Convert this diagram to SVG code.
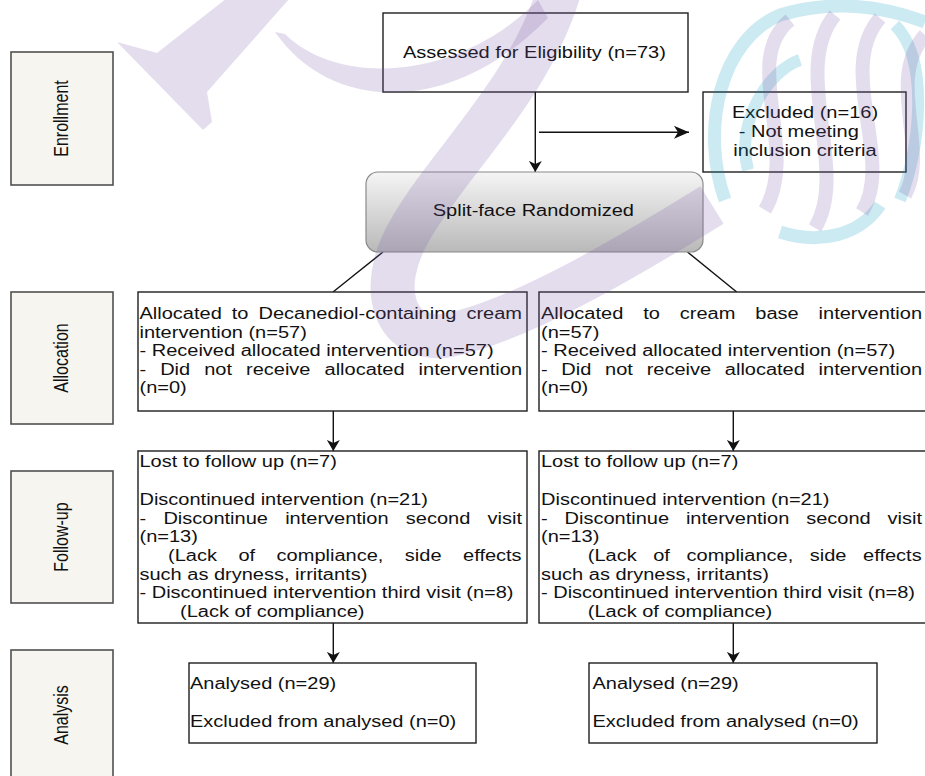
<svg xmlns="http://www.w3.org/2000/svg" width="925" height="776" viewBox="0 0 925 776">
<defs>
<style>
.box{fill:#fff;stroke:#1e1e1e;stroke-width:1.4}
.side{fill:#f7f5ef;stroke:#505050;stroke-width:1.6}
.t{font-family:"Liberation Sans",Arial,sans-serif;font-size:16px;fill:#111}
.m{text-anchor:middle}
.c{stroke:#111;stroke-width:1.4;fill:none}
.wp{fill:none;stroke:#7a55a5;stroke-opacity:.2}
.wb{fill:none;stroke:#0096c0;stroke-opacity:.2}
.wpf{fill:#7a55a5;fill-opacity:.2}
</style>
<linearGradient id="g" x1="0" y1="0" x2="0" y2="1"><stop offset="0" stop-color="#f5f5f5"/><stop offset="1" stop-color="#b9b9b9"/></linearGradient>
<marker id="a" markerUnits="userSpaceOnUse" markerWidth="11" markerHeight="13" viewBox="0 0 11 13" refX="11" refY="6.5" orient="auto"><path d="M0,0 L11,6.5 L0,13 L3,6.5 Z" fill="#111"/></marker>
<marker id="ah" markerUnits="userSpaceOnUse" markerWidth="15" markerHeight="13" viewBox="0 0 15 13" refX="15" refY="6.5" orient="auto"><path d="M0,0 L15,6.5 L0,13 L4,6.5 Z" fill="#111"/></marker>
</defs>
<rect width="925" height="776" fill="#fff"/>

<g id="side-enrollment"><rect class="side" x="11" y="52" width="102" height="133"/><text class="t m" transform="translate(61,118.5) rotate(-90) scale(1,1.3)" y="5.5">Enrollment</text></g>
<g id="side-allocation"><rect class="side" x="11" y="292" width="102" height="132"/><text class="t m" transform="translate(61,358) rotate(-90) scale(1,1.3)" y="5.5">Allocation</text></g>
<g id="side-followup"><rect class="side" x="11" y="471" width="102" height="132"/><text class="t m" transform="translate(61,537) rotate(-90) scale(1,1.3)" y="5.5">Follow-up</text></g>
<g id="side-analysis"><rect class="side" x="11" y="650" width="102" height="140"/><text class="t m" transform="translate(61,715) rotate(-90) scale(1,1.3)" y="5.5">Analysis</text></g>

<g id="connectors">
<line class="c" x1="535.3" y1="92" x2="535.3" y2="172" marker-end="url(#a)"/>
<line class="c" x1="539" y1="132.3" x2="689" y2="132.3" marker-end="url(#ah)"/>
<line class="c" x1="383" y1="252" x2="333" y2="292"/>
<line class="c" x1="687.5" y1="252" x2="736.7" y2="292"/>
<line class="c" x1="333.3" y1="411" x2="333.3" y2="451" marker-end="url(#a)"/>
<line class="c" x1="733.3" y1="411" x2="733.3" y2="451" marker-end="url(#a)"/>
<line class="c" x1="333.3" y1="623" x2="333.3" y2="663" marker-end="url(#a)"/>
<line class="c" x1="733.3" y1="623" x2="733.3" y2="663" marker-end="url(#a)"/>
</g>

<g id="assessed"><rect class="box" x="383" y="13" width="305" height="79"/>
<text class="t m" transform="scale(1.25,1)" x="427.5" y="58">Assessed for Eligibility (n=73)</text></g>

<g id="excluded"><rect class="box" x="703" y="92" width="203" height="80"/>
<g class="t m" transform="scale(1.25,1)"><text x="644" y="118.5">Excluded (n=16)</text><text x="639" y="137.5">- Not meeting</text><text x="644" y="156.5">inclusion criteria</text></g></g>

<g id="randomized"><rect x="366" y="172" width="337" height="80" rx="12" fill="url(#g)" stroke="#8a8a8a" stroke-width="1.2"/>
<text class="t m" transform="scale(1.25,1)" x="426.7" y="216">Split-face Randomized</text></g>

<g id="alloc-left"><rect class="box" x="138" y="292" width="389" height="119"/>
<g class="t" transform="scale(1.25,1)">
<text y="319"><tspan x="111.6">Allocated</tspan><tspan x="185.4">to</tspan><tspan x="206.8">Decanediol-containing</tspan><tspan x="373.15">cream</tspan></text>
<text x="111.6" y="337.6">intervention (n=57)</text>
<text x="111.6" y="356.2">- Received allocated intervention (n=57)</text>
<text y="374.8"><tspan x="111.6">-</tspan><tspan x="128.15">Did</tspan><tspan x="163.37">not</tspan><tspan x="196.83">receive</tspan><tspan x="259.62">allocated</tspan><tspan x="334.9">intervention</tspan></text>
<text x="111.6" y="393.4">(n=0)</text>
</g></g>

<g id="alloc-right"><rect class="box" x="539" y="292" width="400" height="119"/>
<g class="t" transform="scale(1.25,1)">
<text y="319"><tspan x="432.8">Allocated</tspan><tspan x="514.56">to</tspan><tspan x="543.85">cream</tspan><tspan x="604.25">base</tspan><tspan x="654.9">intervention</tspan></text>
<text x="432.8" y="337.6">(n=57)</text>
<text x="432.8" y="356.2">- Received allocated intervention (n=57)</text>
<text y="374.8"><tspan x="432.8">-</tspan><tspan x="449.11">Did</tspan><tspan x="484.09">not</tspan><tspan x="517.31">receive</tspan><tspan x="579.86">allocated</tspan><tspan x="654.9">intervention</tspan></text>
<text x="432.8" y="393.4">(n=0)</text>
</g></g>

<g id="follow-left"><rect class="box" x="138" y="451" width="389" height="172"/>
<g class="t" transform="scale(1.25,1)">
<text x="111.6" y="467.5">Lost to follow up (n=7)</text>
<text x="111.6" y="504.9">Discontinued intervention (n=21)</text>
<text y="523.6"><tspan x="111.6">-</tspan><tspan x="130.74">Discontinue</tspan><tspan x="228.13">intervention</tspan><tspan x="324.64">second</tspan><tspan x="390.05">visit</tspan></text>
<text x="111.6" y="542.3">(n=13)</text>
<text y="561"><tspan x="134.4">(Lack</tspan><tspan x="190.74">of</tspan><tspan x="221.3">compliance,</tspan><tspan x="323.88">side</tspan><tspan x="370.46">effects</tspan></text>
<text x="111.6" y="579.7">such as dryness, irritants)</text>
<text x="111.6" y="598.4">- Discontinued intervention third visit (n=8)</text>
<text x="144" y="617.1">(Lack of compliance)</text>
</g></g>

<g id="follow-right"><rect class="box" x="539" y="451" width="400" height="172"/>
<g class="t" transform="scale(1.25,1)">
<text x="432.8" y="467.5">Lost to follow up (n=7)</text>
<text x="432.8" y="504.9">Discontinued intervention (n=21)</text>
<text y="523.6"><tspan x="432.8">-</tspan><tspan x="451.64">Discontinue</tspan><tspan x="548.73">intervention</tspan><tspan x="644.94">second</tspan><tspan x="710.05">visit</tspan></text>
<text x="432.8" y="542.3">(n=13)</text>
<text y="561"><tspan x="470.2">(Lack</tspan><tspan x="522.6">of</tspan><tspan x="549.22">compliance,</tspan><tspan x="647.86">side</tspan><tspan x="690.46">effects</tspan></text>
<text x="432.8" y="579.7">such as dryness, irritants)</text>
<text x="432.8" y="598.4">- Discontinued intervention third visit (n=8)</text>
<text x="470.2" y="617.1">(Lack of compliance)</text>
</g></g>

<g id="analysis-left"><rect class="box" x="189" y="663" width="287" height="80"/>
<g class="t" transform="scale(1.25,1)"><text x="152" y="689.3">Analysed (n=29)</text><text x="152" y="726.7">Excluded from analysed (n=0)</text></g></g>

<g id="analysis-right"><rect class="box" x="589" y="663" width="288" height="80"/>
<g class="t" transform="scale(1.25,1)"><text x="474" y="689.3">Analysed (n=29)</text><text x="474" y="726.7">Excluded from analysed (n=0)</text></g></g>

<g id="watermark">
<polygon class="wpf" points="117,42 157,53 227,-2 290,-2 207,92 212,122 203,130"/>
<path class="wpf" d="M275,32 C330,112 450,118 548,18 L538,0 C460,80 340,88 285,34 Z"/>
<path class="wp" stroke-width="44" d="M560,-12 C530,90 450,160 410,230 C375,290 395,345 450,335 C520,320 620,262 712,205"/>
<path class="wb" stroke-width="13" d="M725,200 C700,130 720,40 780,15 C830,0 880,5 925,22"/>
<path class="wb" stroke-width="13" d="M780,232 C820,245 860,235 880,205"/>
<path class="wb" stroke-width="12" d="M748,170 C735,120 770,70 800,60"/>
<path class="wb" stroke-width="12" d="M895,25 C930,60 920,150 900,200"/>
<path class="wp" stroke-width="14" d="M790,20 C740,60 800,150 765,210"/>
<path class="wp" stroke-width="14" d="M835,15 C790,70 850,170 815,228"/>
<path class="wp" stroke-width="14" d="M880,18 C835,70 895,160 862,212"/>
<path class="wp" stroke-width="14" d="M925,35 C885,80 930,150 905,195"/>
</g>
</svg>
